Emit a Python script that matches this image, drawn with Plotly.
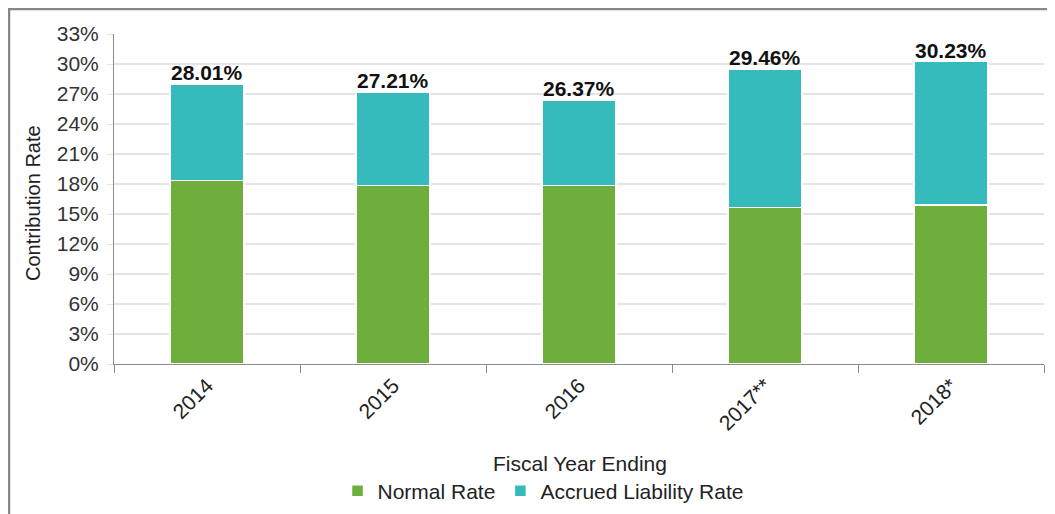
import plotly.graph_objects as go

years = ["2014", "2015", "2016", "2017**", "2018*"]
normal_rate = [18.35, 17.85, 17.85, 15.67, 15.92]
accrued_rate = [9.66, 9.36, 8.52, 13.79, 14.31]
total_rate = [28.01, 27.21, 26.37, 29.46, 30.23]
y_ticks = [0, 3, 6, 9, 12, 15, 18, 21, 24, 27, 30, 33]
y_tick_labels = [f"{v}%" for v in y_ticks]

GREEN = "rgb(109,174,60)"
TEAL = "rgb(54,187,188)"
FONT = "Liberation Sans, Arial, sans-serif"

# page body has an 8px margin; positions below are in page pixels
OFF = 8
W, H = 1055, 514
L = 114 - OFF
T = 34 - OFF
plot_right = 1044 - OFF
plot_bottom = 364 - OFF
R = W - plot_right
B = H - plot_bottom
pw, ph = W - L - R, H - T - B


def px_x(p):
    return (p - OFF - L) / pw


def px_y(p):
    return (plot_bottom - (p - OFF)) / ph


fig = go.Figure()
fig.add_trace(go.Bar(
    x=years, y=normal_rate, name="Normal Rate",
    marker=dict(color=GREEN, line=dict(color="white", width=1.5)),
    width=0.4,
))
fig.add_trace(go.Bar(
    x=years, y=accrued_rate, name="Accrued Liability Rate",
    marker=dict(color=TEAL, line=dict(color="white", width=1.5)),
    width=0.4,
))

annotations = [
    dict(
        x=i, y=tot, xref="x", yref="y",
        text=f"<b>{tot:.2f}%</b>", showarrow=False,
        xanchor="center", yanchor="bottom", yshift=-2,
        font=dict(family=FONT, size=21, color="#111"),
    )
    for i, tot in enumerate(total_rate)
]
annotations += [
    dict(
        text="Contribution Rate", textangle=-90,
        xref="paper", yref="paper", x=px_x(33), y=px_y(203),
        xanchor="center", yanchor="middle", showarrow=False,
        font=dict(size=20, color="#222"),
    ),
    dict(
        text="Fiscal Year Ending",
        xref="paper", yref="paper", x=px_x(580), y=px_y(463),
        xanchor="center", yanchor="middle", showarrow=False,
        font=dict(size=21, color="#222"),
    ),
]

fig.update_layout(
    width=W, height=H,
    margin=dict(l=L, r=R, t=T, b=B, autoexpand=False),
    barmode="stack",
    plot_bgcolor="white", paper_bgcolor="white",
    font=dict(family=FONT, size=20, color="#333"),
    legend=dict(
        orientation="h", x=px_x(543), xanchor="center",
        y=px_y(491), yanchor="middle",
        font=dict(size=21, color="#222"),
        traceorder="normal", itemwidth=30,
    ),
    xaxis=dict(
        type="category",
        categoryorder="array", categoryarray=years,
        tickangle=-45,
        tickfont=dict(size=21, color="#222"),
        showline=True, linecolor="#8c8c8c", linewidth=1,
        ticks="outside", tickson="boundaries", ticklen=8,
        tickcolor="#8c8c8c",
        showgrid=False, automargin=False,
    ),
    yaxis=dict(
        range=[0, 33], tickvals=y_ticks, ticktext=y_tick_labels,
        tickfont=dict(size=21, color="#333"),
        showline=True, linecolor="#8c8c8c", linewidth=1,
        ticks="outside", ticklen=6, tickcolor="#e4e4e4",
        showgrid=True, gridcolor="#e4e4e4", gridwidth=1.5,
        zeroline=False, automargin=False,
        ticklabelstandoff=4,
    ),
    annotations=annotations,
    shapes=[dict(
        type="rect", xref="paper", yref="paper",
        x0=px_x(9), x1=px_x(1075), y0=px_y(535), y1=px_y(9),
        line=dict(color="#878787", width=2.5), fillcolor="rgba(0,0,0,0)",
        layer="above",
    )],
)

fig.write_html("out.html")
